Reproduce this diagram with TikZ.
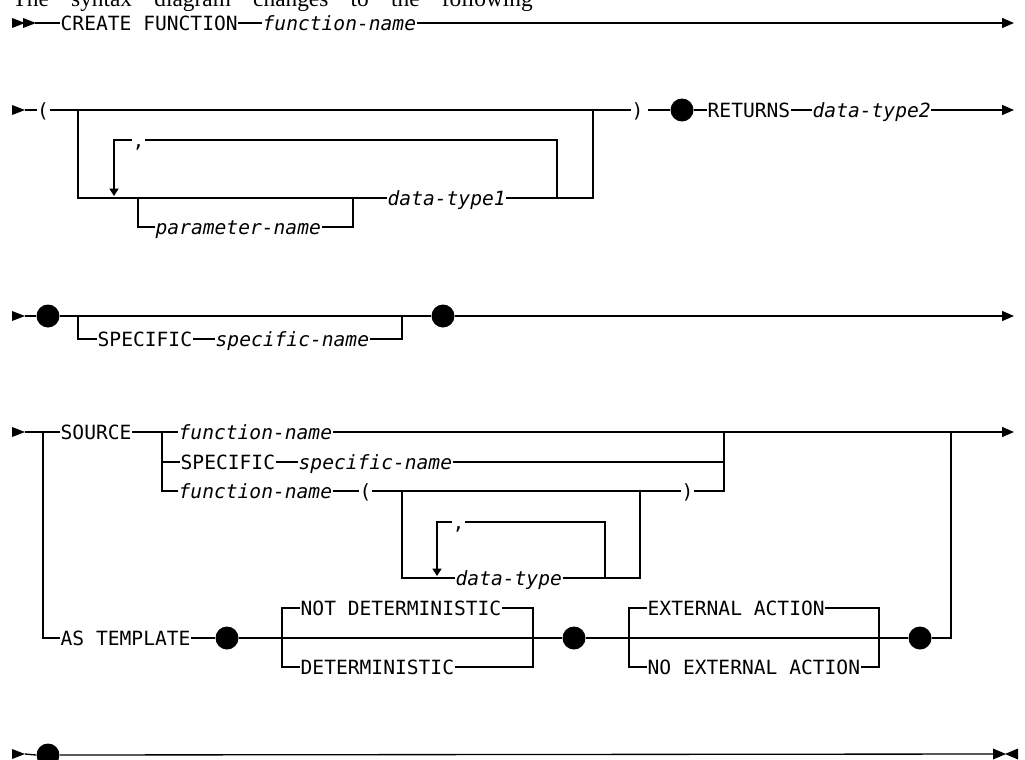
\documentclass[tikz,border=0pt]{standalone}
\usepackage{fontspec}
\setmonofont{DejaVu Sans Mono}
\newfontfamily\serifx{Liberation Serif}
\usetikzlibrary{arrows.meta}
\begin{document}
\begin{tikzpicture}[x=0.75pt,y=-0.75pt,
  line width=1pt,
  kw/.style={font=\ttfamily\fontsize{14.7pt}{16pt}\selectfont, anchor=west, inner sep=0pt, text height=10.7pt, text depth=0pt},
  var/.style={kw, font=\ttfamily\itshape\fontsize{14.7pt}{16pt}\selectfont},
  dot/.style={circle, fill=black, draw=none, minimum size=17.25pt, inner sep=0pt},
  endarrow/.style={-{Triangle[length=9pt,width=7.5pt]}},
  looparrow/.style={-{Triangle[length=5.5pt,width=6.75pt]}},
  startmark/.pic={\fill (0,-5) -- (13,0) -- (0,5) -- cycle;},
  closemark/.pic={\fill (0,-5.5) -- (13,0) -- (0,5.5) -- cycle; \fill (25,-5.5) -- (12,0) -- (25,5.5) -- cycle;}
]
\useasboundingbox (0,0) rectangle (1025,760);
\clip (0,0) rectangle (1025,760);

% title (cut off at top)
\node[anchor=base west, inner sep=0pt, font=\serifx\fontsize{17.5pt}{20pt}\selectfont] (title) at (12,7)
  {\makebox[390pt][s]{The syntax diagram changes to the following}};

% ---------- Row 1 ----------
\pic at (12,23) {startmark};
\pic at (23,23) {startmark};
\coordinate (s1) at (35,23);
\node[kw] (cf) at (60,23) {CREATE FUNCTION};
\node[var] (fn1) at (262,23) {function-name};
\coordinate (e1) at (1014,23);
\draw (s1) -- (cf.west);
\draw (cf.east) -- (fn1.west);
\draw[endarrow] (fn1.east) -- (e1);

% ---------- Row 2 ----------
\pic at (12,110) {startmark};
\coordinate (s2) at (25,110);
\node[kw] (lp) at (36.5,110) {(};
\node[kw] (rp) at (631,110) {)};
\node[kw] (cm2) at (132,140) {,};
\node[var] (pn) at (155,227) {parameter-name};
\node[var] (dt1) at (387,198) {data-type1};
\node[dot] (d2) at (682,110) {};
\node[kw] (ret) at (707,110) {RETURNS};
\node[var] (dt2) at (812,110) {data-type2};
\coordinate (e2) at (1014,110);
\draw (s2) -- (lp.west);
\draw (lp.east) -- (rp.west);
\draw (78,110) -- (78,198) -- (dt1.west);
\draw (138,198) -- (138,227) -- (pn.west);
\draw (pn.east) -- (353,227) -- (353,198);
\draw (dt1.east) -- (593,198) -- (593,110);
\draw (557,198) -- (557,140) -- (cm2.east);
\draw[looparrow] (cm2.west) -- (114,140) -- (114,196);
\draw (rp.east) ++(4,0) -- (d2.west);
\draw (d2.east) -- (ret.west);
\draw (ret.east) -- (dt2.west);
\draw[endarrow] (dt2.east) -- (e2);

% ---------- Row 3 ----------
\pic at (12,316) {startmark};
\coordinate (s3) at (25,316);
\node[dot] (d3a) at (48,316) {};
\node[dot] (d3b) at (443,316) {};
\node[kw] (sp3) at (97,339) {SPECIFIC};
\node[var] (sn3) at (215,339) {specific-name};
\coordinate (e3) at (1014,316);
\draw (s3) -- (d3a.west);
\draw (d3a.east) -- (d3b.west);
\draw (78,316) -- (78,339) -- (sp3.west);
\draw (sp3.east) -- (sn3.west);
\draw (sn3.east) -- (402,339) -- (402,316);
\draw[endarrow] (d3b.east) -- (e3);

% ---------- Row 4 ----------
\pic at (12,432) {startmark};
\coordinate (s4) at (25,432);
\node[kw] (src) at (60,432) {SOURCE};
\node[var] (fn4) at (178,432) {function-name};
\node[kw] (sp4) at (180,462) {SPECIFIC};
\node[var] (sn4) at (298,462) {specific-name};
\node[var] (fn4b) at (178,491) {function-name};
\node[kw] (lp4) at (359,491) {(};
\node[kw] (rp4) at (681,491) {)};
\node[kw] (cm4) at (452,522) {,};
\node[var] (dt4) at (455,578) {data-type};
\coordinate (e4) at (1014,432);
\draw (s4) -- (43,432) -- (src.west);
\draw (src.east) -- (fn4.west);
\draw[endarrow] (fn4.east) -- (e4);
\draw (162,432) -- (162,491) -- (fn4b.west);
\draw (162,462) -- (sp4.west);
\draw (sp4.east) -- (sn4.west);
\draw (sn4.east) -- (724,462);
\draw (fn4b.east) -- (lp4.west);
\draw (lp4.east) -- (rp4.west);
\draw (rp4.east) -- (724,491) -- (724,432);
\draw (402,491) -- (402,578) -- (dt4.west);
\draw (dt4.east) -- (640,578) -- (640,491);
\draw (605,578) -- (605,522) -- (cm4.east);
\draw[looparrow] (cm4.west) -- (437,522) -- (437,576);

% ---------- AS TEMPLATE ----------
\node[kw] (ast) at (60,638) {AS TEMPLATE};
\node[dot] (d5a) at (227,638) {};
\node[kw] (nd) at (300,608) {NOT DETERMINISTIC};
\node[kw] (det) at (300,667) {DETERMINISTIC};
\node[dot] (d5b) at (574,638) {};
\node[kw] (ea) at (647,608) {EXTERNAL ACTION};
\node[kw] (nea) at (647,667) {NO EXTERNAL ACTION};
\node[dot] (d5c) at (920,638) {};
\draw (43,432) -- (43,638) -- (ast.west);
\draw (ast.east) -- (d5a.west);
\draw (d5a.east) -- (d5b.west);
\draw (nd.west) -- (282,608) -- (282,667) -- (det.west);
\draw (nd.east) -- (533,608) -- (533,667) -- (det.east);
\draw (d5b.east) -- (d5c.west);
\draw (ea.west) -- (629,608) -- (629,667) -- (nea.west);
\draw (ea.east) -- (879,608) -- (879,667) -- (nea.east);
\draw (d5c.east) -- (951,638) -- (951,432);

% ---------- Bottom row ----------
\pic at (12,754) {startmark};
\coordinate (s6) at (25,754);
\node[dot] (d6) at (48,755) {};
\coordinate (e6) at (993,754);
\draw (s6) -- (d6.west);
\draw (d6.east) -- (e6);
\pic at (993,754) {closemark};
\end{tikzpicture}
\end{document}
